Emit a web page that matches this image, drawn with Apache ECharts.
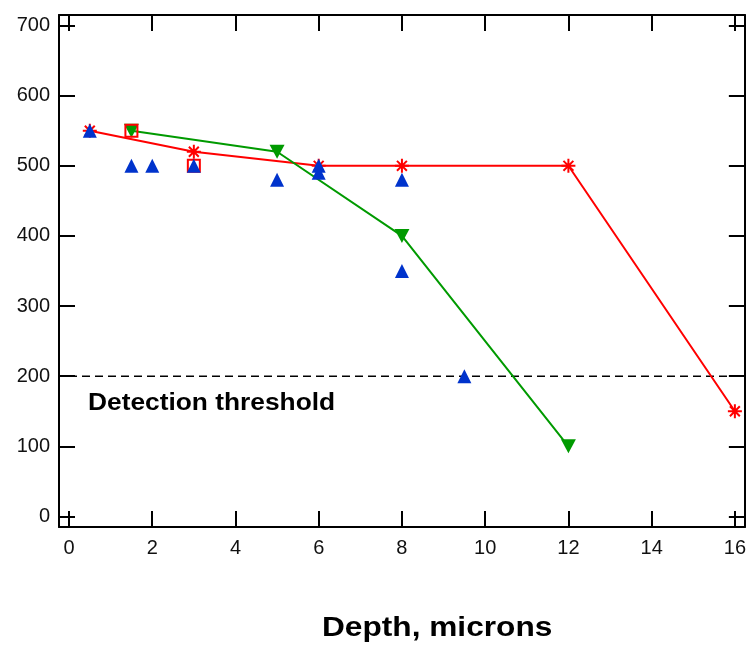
<!DOCTYPE html>
<html>
<head>
<meta charset="utf-8">
<script src="https://cdn.jsdelivr.net/npm/echarts@6/dist/echarts.min.js"></script>
<style>
  html, body { margin: 0; padding: 0; background: #fff; }
  #chart { width: 749px; height: 645px; }
</style>
</head>
<body>
<div id="chart"></div>
<script>
// Depth profiles (x: depth in microns, y: signal)
const redDepth   = [0.5, 3, 6, 8, 12, 16];
const redValue   = [550, 520, 500, 500, 500, 150];

const greenDepth = [1.5, 5, 8, 12];
const greenValue = [550, 520, 400, 100];

const squareDepth = [1.5, 3];
const squareValue = [550, 500];

const blueDepth = [0.5, 1.5, 2, 3, 5, 6, 6, 8, 8, 9.5];
const blueValue = [550, 500, 500, 500, 480, 500, 490, 480, 350, 200];

const threshold = 200;
const thresholdSpan = [0, 16.24];

const xTicks = [0, 2, 4, 6, 8, 10, 12, 14, 16];
const yTicks = [0, 100, 200, 300, 400, 500, 600, 700];

const xTitle = 'Depth, microns';
const thresholdLabel = 'Detection threshold';

const pairs = (xs, ys) => xs.map((x, i) => [x, ys[i]]);

const FONT = '"Liberation Sans", Arial, sans-serif';
const asterisk = 'path://M0,-10L0,10M-10,0L10,0M-7.07,-7.07L7.07,7.07M-7.07,7.07L7.07,-7.07';

const xRange = { min: -0.24, max: 16.24 };
const yRange = { min: -15, max: 715 };

const frameLine = { show: true, onZero: false, lineStyle: { color: '#000', width: 2 } };

function xAxisDef(position, showLabels) {
  return {
    type: 'value', position, ...xRange,
    axisLine: frameLine,
    axisTick: { show: true, inside: true, length: 16, customValues: xTicks,
                lineStyle: { color: '#000', width: 2 } },
    axisLabel: { show: showLabels, customValues: xTicks, margin: 11,
                 color: '#111', fontSize: 20, fontFamily: FONT },
    splitLine: { show: false }
  };
}
function yAxisDef(position, showLabels) {
  return {
    type: 'value', position, ...yRange,
    axisLine: frameLine,
    axisTick: { show: true, inside: true, length: 16, customValues: yTicks,
                lineStyle: { color: '#000', width: 2 } },
    axisLabel: { show: showLabels, customValues: yTicks, margin: 9,
                 color: '#111', fontSize: 20, fontFamily: FONT },
    splitLine: { show: false }
  };
}

const chart = echarts.init(document.getElementById('chart'), null, { renderer: 'canvas' });
chart.setOption({
  animation: false,
  backgroundColor: '#fff',
  grid: { left: 59, right: 2, top: 15, bottom: 118, containLabel: false },
  xAxis: [xAxisDef('bottom', true), xAxisDef('top', false)],
  yAxis: [yAxisDef('left', true), yAxisDef('right', false)],
  series: [
    {
      type: 'line',
      data: thresholdSpan.map(x => [x, threshold]),
      showSymbol: false,
      lineStyle: { color: '#000', width: 1.6, type: [8, 5] },
      z: 1
    },
    {
      type: 'line',
      data: pairs(redDepth, redValue),
      symbol: asterisk,
      symbolSize: 14,
      itemStyle: { color: '#ff0000', borderColor: '#ff0000', borderWidth: 2, opacity: 1 },
      lineStyle: { color: '#ff0000', width: 2 },
      z: 2
    },
    {
      type: 'line',
      data: pairs(greenDepth, greenValue),
      symbol: 'triangle',
      symbolRotate: 180,
      symbolSize: [15, 14],
      itemStyle: { color: '#009a00', borderWidth: 0, opacity: 1 },
      lineStyle: { color: '#009a00', width: 2 },
      z: 3
    },
    {
      type: 'scatter',
      data: pairs(squareDepth, squareValue),
      symbol: 'rect',
      symbolSize: 12,
      itemStyle: { color: 'rgba(0,0,0,0)', borderColor: '#ff0000', borderWidth: 2, opacity: 1 },
      z: 4
    },
    {
      type: 'scatter',
      data: pairs(blueDepth, blueValue),
      symbol: 'triangle',
      symbolSize: [14, 14],
      itemStyle: { color: '#0033cc', opacity: 1 },
      z: 5
    }
  ],
  graphic: [
    {
      type: 'text', x: 88, y: 404, scaleX: 1.12, z: 10,
      style: { text: thresholdLabel, fill: '#000', font: 'bold 23.5px ' + FONT,
               align: 'left', verticalAlign: 'middle' }
    },
    {
      type: 'text', x: 322, y: 628, scaleX: 1.13, z: 10,
      style: { text: xTitle, fill: '#000', font: 'bold 28px ' + FONT,
               align: 'left', verticalAlign: 'middle' }
    }
  ]
});
</script>
</body>
</html>
